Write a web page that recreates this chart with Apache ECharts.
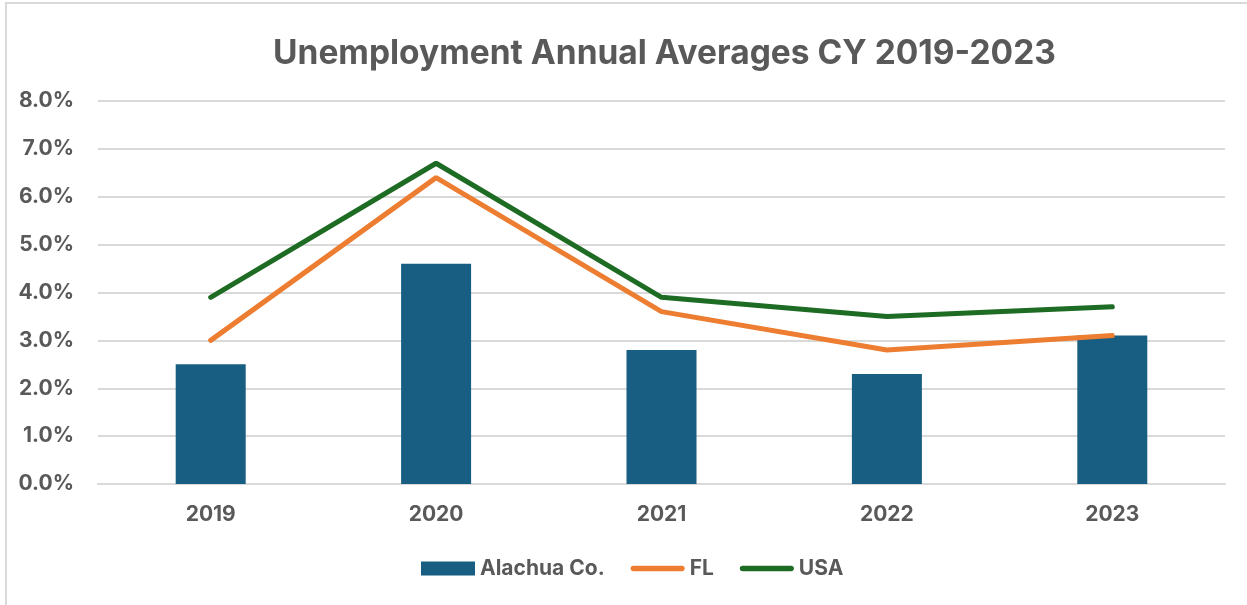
<!DOCTYPE html>
<html>
<head>
<meta charset="utf-8">
<script src="https://cdn.jsdelivr.net/npm/echarts@6/dist/echarts.min.js"></script>
<style>
  html, body { margin: 0; padding: 0; background: #fff; }
  #frame { position: absolute; left: 5px; top: 2px; width: 1250px; height: 610px; border: 2px solid #d9d9d9; }
  #main { position: absolute; left: 0; top: 0; width: 1247px; height: 605px; }
</style>
</head>
<body>
<div id="frame"></div>
<div id="main"></div>
<script>
// chart data
var years = ['2019', '2020', '2021', '2022', '2023'];
var alachua = [2.5, 4.6, 2.8, 2.3, 3.1];
var florida = [3.0, 6.4, 3.6, 2.8, 3.1];
var usa = [3.9, 6.7, 3.9, 3.5, 3.7];

var font = 'Inter';
var grey = '#595959';
var lineIcon = 'path://M3,0 L55,0 A3,3 0 0 1 55,6 L3,6 A3,3 0 0 1 3,0 Z';

var myChart = echarts.init(document.getElementById('main'));
myChart.setOption({
    animation: false,
    title: {
        text: 'Unemployment Annual Averages CY 2019-2023',
        left: 268,
        top: 32,
        textStyle: { fontFamily: font, fontSize: 33.5, fontWeight: 'bold', color: grey }
    },
    grid: { left: 98, right: 22, top: 101, bottom: 121 },
    legend: {
        bottom: 21,
        left: 416,
        itemGap: 26,
        itemWidth: 54,
        itemHeight: 14,
        textStyle: { fontFamily: font, fontSize: 21, fontWeight: 'bold', color: grey, padding: [0, 0, 0, 0] },
        data: [
            { name: 'Alachua Co.', icon: 'rect' },
            { name: 'FL', icon: lineIcon },
            { name: 'USA', icon: lineIcon }
        ]
    },
    xAxis: {
        type: 'category',
        data: years,
        axisTick: { show: false },
        axisLine: { lineStyle: { color: '#d9d9d9', width: 2 } },
        axisLabel: { margin: 20, fontFamily: font, fontSize: 21, fontWeight: 'bold', color: grey }
    },
    yAxis: {
        type: 'value',
        min: 0,
        max: 8,
        interval: 1,
        axisLabel: {
            margin: 24,
            fontFamily: font, fontSize: 21, fontWeight: 'bold', color: grey,
            formatter: function (v) { return v.toFixed(1) + '%'; }
        },
        splitLine: { lineStyle: { color: '#d9d9d9', width: 2 } }
    },
    series: [
        {
            name: 'Alachua Co.',
            type: 'bar',
            data: alachua,
            barWidth: 70,
            itemStyle: { color: '#175e82' }
        },
        {
            name: 'FL',
            type: 'line',
            data: florida,
            symbol: 'none',
            lineStyle: { color: '#ed7d31', width: 5, cap: 'round' },
            itemStyle: { color: '#ed7d31' }
        },
        {
            name: 'USA',
            type: 'line',
            data: usa,
            symbol: 'none',
            lineStyle: { color: '#1e6b24', width: 5, cap: 'round' },
            itemStyle: { color: '#1e6b24' }
        }
    ]
});
</script>
</body>
</html>
